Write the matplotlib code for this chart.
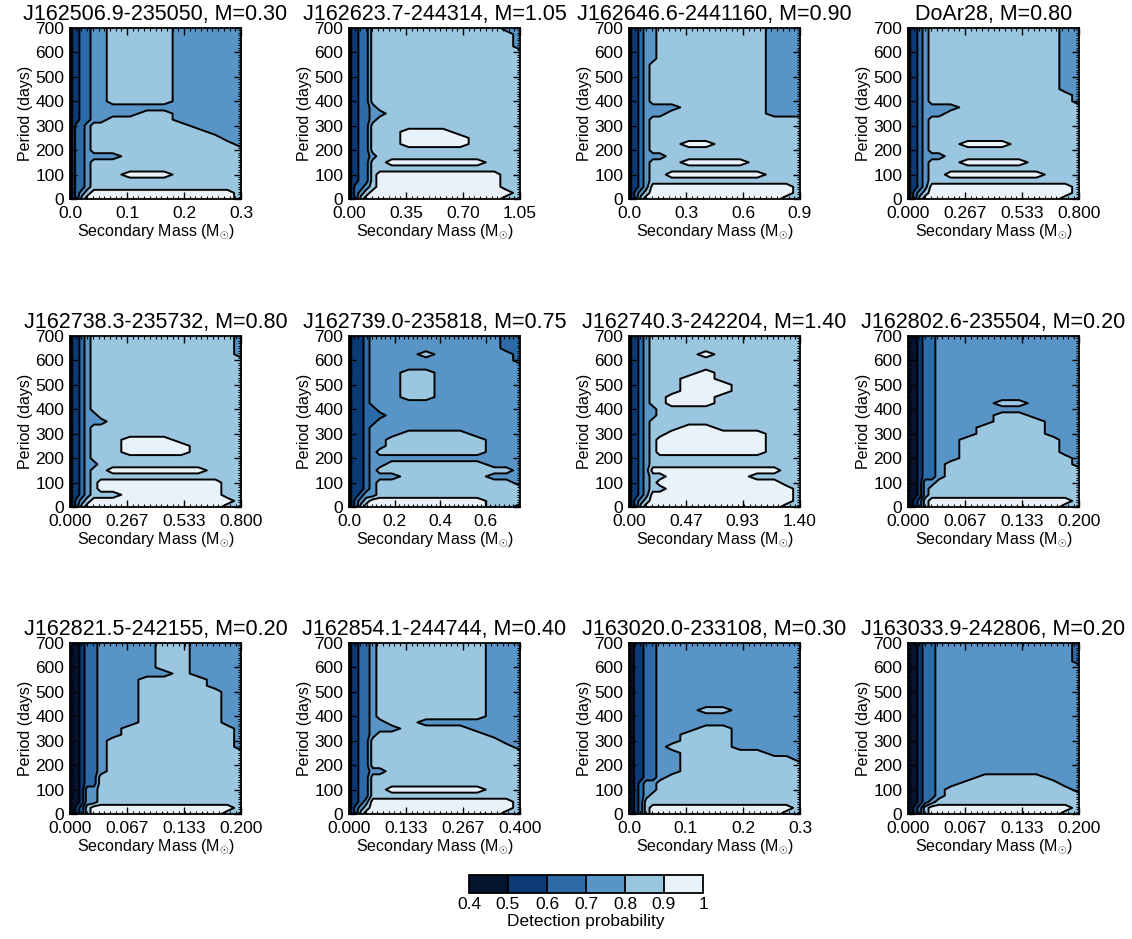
import numpy as np
import matplotlib
matplotlib.use("Agg")
import matplotlib.pyplot as plt
from matplotlib.colors import ListedColormap, BoundaryNorm
from matplotlib.cm import ScalarMappable
from matplotlib.ticker import AutoMinorLocator, FixedLocator

plt.rcParams['font.family'] = ['Liberation Sans', 'DejaVu Sans']
plt.rcParams['mathtext.fontset'] = 'custom'
plt.rcParams['mathtext.rm'] = 'Liberation Sans'

STARS = ['J162506.9-235050', 'J162623.7-244314', 'J162646.6-2441160', 'DoAr28',
         'J162738.3-235732', 'J162739.0-235818', 'J162740.3-242204', 'J162802.6-235504',
         'J162821.5-242155', 'J162854.1-244744', 'J163020.0-233108', 'J163033.9-242806']
PRIMARY_MASS = [0.30, 1.05, 0.90, 0.80, 0.80, 0.75, 1.40, 0.20, 0.20, 0.40, 0.30, 0.20]
XTICK_LABELS = [
    ['0.0', '0.1', '0.2', '0.3'],
    ['0.00', '0.35', '0.70', '1.05'],
    ['0.0', '0.3', '0.6', '0.9'],
    ['0.000', '0.267', '0.533', '0.800'],
    ['0.000', '0.267', '0.533', '0.800'],
    ['0.0', '0.2', '0.4', '0.6'],
    ['0.00', '0.47', '0.93', '1.40'],
    ['0.000', '0.067', '0.133', '0.200'],
    ['0.000', '0.067', '0.133', '0.200'],
    ['0.000', '0.133', '0.267', '0.400'],
    ['0.0', '0.1', '0.2', '0.3'],
    ['0.000', '0.067', '0.133', '0.200'],
]

# grid of the probability maps: secondary mass as fraction of the primary, period (days, top row first)
MASS_FRAC = [0, .02, .04, .07, .10, .14, .18, .25, .35, .45, .55, .65, .75, .85, .92, 1.0]
PERIOD_NODES = [700, 675, 650, 625, 600, 575, 550, 525, 500, 475, 450, 425, 400, 375, 350,
                325, 300, 275, 250, 225, 200, 175, 150, 125, 100, 75, 50, 25, 0]

LEVELS = [0.4, 0.5, 0.6, 0.7, 0.8, 0.9, 1.0]
LEVEL_LABELS = ['0.4', '0.5', '0.6', '0.7', '0.8', '0.9', '1']
LEVEL_COLORS = ['#06132f', '#0c3a74', '#2c6ba7', '#5895c6', '#9bc6e0', '#e9f2f9']

# digit = detection probability bin (0: 0.4-0.5 ... 5: 0.9-1.0), rows from 700 d down to 0 d
MAP_J162506 = ["0112233444433333"] * 13 + [
    "0112233333333333", "0112233334433333", "0112233444433333", "0122344444443333",
    "0122344444444333", "0122344444444433", "0122344444444443", "0122344444444444",
    "0122333344444444", "0122344444444444", "0122344444444444", "0122344455544444",
    "0122344444444444", "0122344444444444", "0123455555555554", "0124555555555554"]

MAP_J162623 = ["0112244444444433"] + ["0112244444444443"] * 3 + ["0112244444444444"] * 9 + [
    "0112234444444444", "0112233444444444", "0112234444444444", "0112244444444444",
    "0112244455544444", "0112244455554444", "0112244455554444", "0112244444444444",
    "0112234444444444", "0112244555555444", "0112244444444444", "0112245555555544",
    "0112245555555544", "0122345555555544", "0123455555555554", "0124555555555544"]

MAP_J162646 = ["0112334444444333"] * 6 + ["0112344444444333"] * 7 + [
    "0112333344444333", "0112333444444333", "0112344444444444", "0112344444444444",
    "0112344444444444", "0112344444444444", "0112344455444444", "0112344444444444",
    "0112333444444444", "0112344455554444", "0112344444444444", "0112344555555444",
    "0112344444444444", "0112355555555554", "0123455555555554", "0124555555555544"]

MAP_DOAR28 = ["0112344444444433"] * 11 + ["0112344444444443"] * 2 + [
    "0112333344444444", "0112333444444444", "0112344444444444", "0112344444444444",
    "0112344444444444", "0112344444444444", "0112344455544444", "0112344444444444",
    "0112333444444444", "0112344455554444", "0112344444444444", "0112344555555444",
    "0112344444444444", "0112355555555554", "0123455555555554", "0124555555555544"]

MAP_J162738 = ["0112344444444443"] * 4 + ["0112344444444444"] * 9 + [
    "0112334444444444", "0112333444444444", "0112344444444444", "0112344444444444",
    "0112344455544444", "0112344455554444", "0112344455554444", "0112344444444444",
    "0112334444444444", "0112344555555444", "0112344444444444", "0112345555555544",
    "0112345555555544", "0112344455555544", "0123455555555554", "0124555555555544"]

MAP_J162739 = ["0111233333333322"] * 3 + ["0111233334333332", "0111233333333332",
    "0111233333333333"] + ["0111233344333333"] * 5 + [
    "0111233333333333", "0111223333333333", "0111222333333333", "0111223333333333",
    "0111233333333333", "0111233344443333", "0111233444444333", "0111233444444333",
    "0111234444444333", "0111233333333333", "0111233444444333", "0111234444444443",
    "0111233344444333", "0111234444444443", "0111234444444444", "0112334444444444",
    "0123455555555444", "0124555555555443"]

MAP_J162740 = [
    "0112344444444444", "0112344444444444", "0112344444444444", "0112344445444444",
    "0112344444444444", "0112344444444444", "0112344445444444", "0112344455444444",
    "0112344455544444", "0112344455544444", "0112344555444444", "0112344555444444",
    "0112334444444444", "0112334444444444", "0112344444444444", "0112344455444444",
    "0112344555555444", "0112345555555444", "0112345555555444", "0112345555555444",
    "0112344444444444", "0112344444444444", "0112355555555544", "0112344555554444",
    "0112345555555544", "0112344555555554", "0112355555555554", "0123455555555554",
    "0124555555555544"]

MAP_J162802 = ["0001223333333333"] * 11 + [
    "0001223333443333", "0001223333333333", "0001223333443333", "0001223333444333",
    "0001223334444333", "0001223334444333", "0001223344444433", "0001223344444433",
    "0001223344444433", "0001223344444443", "0001223444444443", "0001223444444444",
    "0001223444444444", "0001334444444444", "0001344444444444", "0001344444444444",
    "0012455555555554", "0012455555555544"]

MAP_J162821 = ["0001223333443333"] * 5 + ["0001223333343333"] + ["0001223334444333"] * 2 + \
    ["0001223334444433"] * 5 + [
    "0001223334444433", "0001223344444443", "0001223344444443", "0001223444444443",
    "0001223444444443", "0001223444444444", "0001223444444444", "0001223444444444",
    "0001223444444444", "0001224444444444", "0001224444444444", "0001334444444444",
    "0001334444444444", "0001334444444444", "0012455555555554", "0012455555555544"]

MAP_J162854 = ["0112234444444333"] * 13 + [
    "0112233443333333", "0112233344443333", "0112234444444333", "0112244444444433",
    "0112244444444443", "0112244444444444", "0112244444444444", "0112244444444444",
    "0112233444444444", "0112244444444444", "0112244444444444", "0112244555555444",
    "0112244444444444", "0112355555555554", "0123455555555554", "0124555555555544"]

MAP_J163020 = ["0011223333333333"] * 11 + [
    "0011223334433333", "0011223333333333", "0011223333333333", "0011223334433333",
    "0011223344433333", "0011223344433333", "0011223444433333", "0011223344444333",
    "0011223344444443", "0011223344444444", "0011223344444444", "0011223444444444",
    "0012334444444444", "0012334444444444", "0012344444444444", "0012444444444444",
    "0012455555555554", "0012455555555544"]

MAP_J163033 = ["0001223333333332"] * 4 + ["0001223333333333"] * 17 + [
    "0001223333333333", "0001223334444333", "0001223344444433", "0001223444444443",
    "0001223444444444", "0001234444444444", "0012455555555554", "0012455555555544"]

MAPS = [MAP_J162506, MAP_J162623, MAP_J162646, MAP_DOAR28, MAP_J162738, MAP_J162739,
        MAP_J162740, MAP_J162802, MAP_J162821, MAP_J162854, MAP_J163020, MAP_J163033]


def to_prob(rows):
    # bin digit -> probability at the bin centre
    return np.array([[0.45 + 0.1 * int(c) for c in r] for r in rows])


W, H = 1132, 939
fig = plt.figure(figsize=(W / 100, H / 100), dpi=100)
col_x = [70, 349, 629, 908]
row_y = [28, 336, 643]
size = 171

periods = np.array(PERIOD_NODES[::-1])
for i, star in enumerate(STARS):
    x0 = col_x[i % 4]
    y0 = row_y[i // 4]
    ax = fig.add_axes([x0 / W, 1 - (y0 + size) / H, size / W, size / H])
    z = to_prob(MAPS[i])[::-1]
    mass = np.array(MASS_FRAC) * PRIMARY_MASS[i]
    ax.contourf(mass, periods, z, levels=LEVELS, colors=LEVEL_COLORS)
    ax.contour(mass, periods, z, levels=LEVELS[1:-1], colors='k', linewidths=1.4)

    ax.set_xlim(0, PRIMARY_MASS[i])
    ax.set_ylim(0, 700)
    ax.xaxis.set_major_locator(FixedLocator([float(t) for t in XTICK_LABELS[i]]))
    ax.set_xticklabels(XTICK_LABELS[i])
    ax.set_yticks([0, 100, 200, 300, 400, 500, 600, 700])
    ax.xaxis.set_minor_locator(AutoMinorLocator(10))
    ax.yaxis.set_minor_locator(AutoMinorLocator(10))
    ax.tick_params(which='both', direction='in', top=True, right=True, labelsize=12.5)
    ax.tick_params(axis='x', which='major', pad=5)
    ax.tick_params(axis='y', which='major', pad=4)
    ax.tick_params(which='major', length=5, width=1)
    ax.tick_params(which='minor', length=2.5, width=0.8)
    for sp in ax.spines.values():
        sp.set_linewidth(1.3)

    ax.set_title(f'{star}, M={PRIMARY_MASS[i]:.2f}', fontsize=15.5, pad=6)
    ax.set_xlabel(r'Secondary Mass ($\mathrm{M}_{\odot}$)', fontsize=11.5, labelpad=1)
    ax.set_ylabel('Period (days)', fontsize=11.5, labelpad=2)

cax = fig.add_axes([469 / W, 1 - 893 / H, 234 / W, 18 / H])
sm = ScalarMappable(norm=BoundaryNorm(LEVELS, len(LEVEL_COLORS)), cmap=ListedColormap(LEVEL_COLORS))
cb = fig.colorbar(sm, cax=cax, orientation='horizontal', drawedges=True, ticks=LEVELS)
cb.set_ticklabels(LEVEL_LABELS)
cb.ax.tick_params(length=0, labelsize=12.5, pad=3)
cb.set_label('Detection probability', fontsize=12.5, labelpad=1)
cb.outline.set_linewidth(1.3)
cb.dividers.set_color('k')
cb.dividers.set_linewidth(1.3)

fig.savefig('out.png', dpi=100)
